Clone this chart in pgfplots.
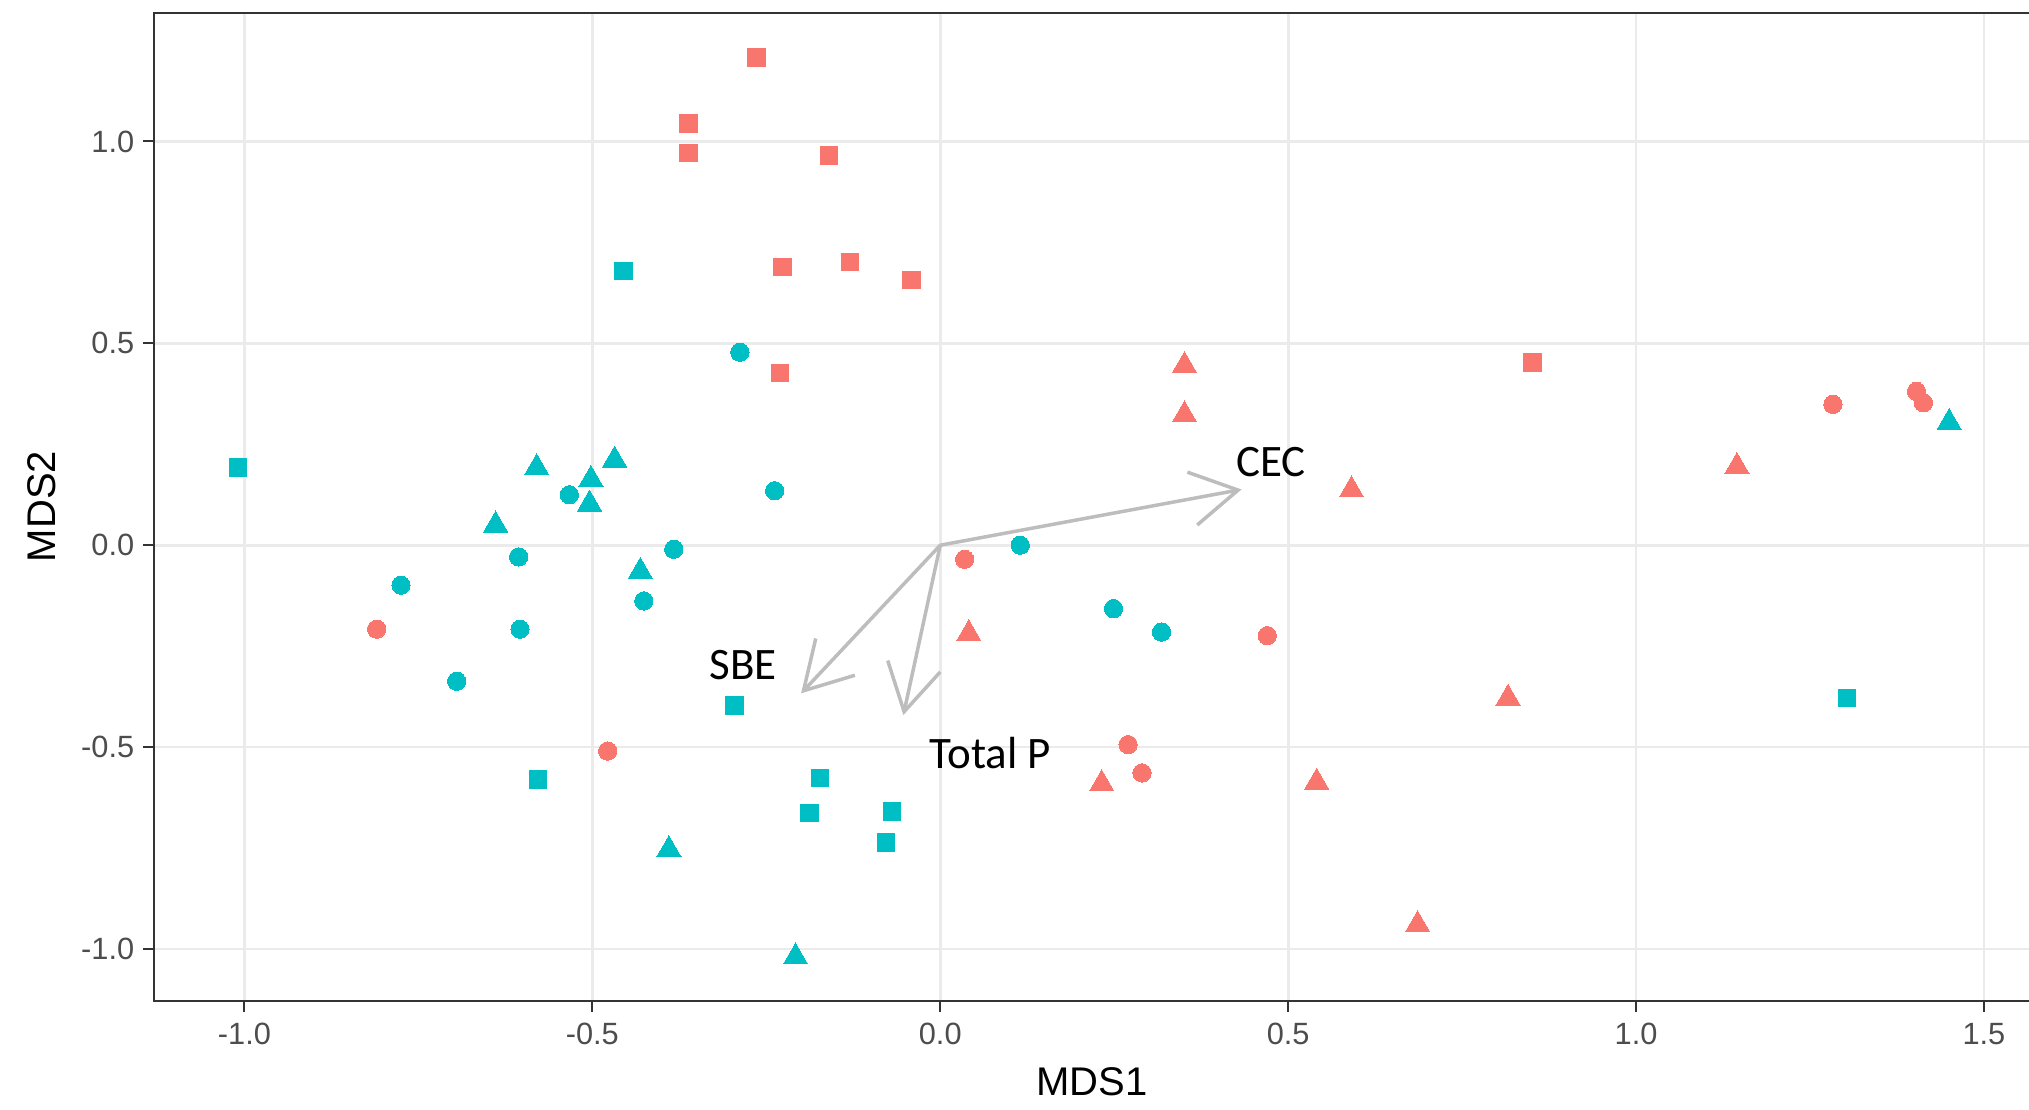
\documentclass[border=0pt]{standalone}
\usepackage{fontspec}
\setmainfont{Liberation Sans}
\newfontfamily\calibri{Carlito}
\usepackage{pgfplots}
\pgfplotsset{compat=1.18}
\usetikzlibrary{arrows.meta,calc}

\definecolor{grpA}{HTML}{F8766D}
\definecolor{grpB}{HTML}{00BFC4}
\definecolor{gridc}{HTML}{EBEBEB}
\definecolor{framec}{HTML}{333333}
\definecolor{tickc}{HTML}{4D4D4D}
\definecolor{vecc}{HTML}{BDBDBD}

\begin{document}
\begin{tikzpicture}
\begin{axis}[
  x=278.32pt, y=161.48pt,
  xmin=-1.130, xmax=1.566, ymin=-1.128, ymax=1.319,
  enlargelimits=false,
  axis line style={draw=framec, line width=0.8pt},
  xtick={-1,-0.5,0,0.5,1,1.5},
  ytick={-1,-0.5,0,0.5,1},
  tick pos=left, tick align=outside,
  major tick length=4.4pt,
  tick style={draw=framec, line width=0.8pt},
  grid=major,
  major grid style={draw=gridc, line width=1.1pt},
  /pgf/number format/.cd, fixed, fixed zerofill, precision=1, assume math mode=true,
  /pgfplots/.cd,
  ticklabel style={font=\fontsize{12.3}{14}\selectfont, text=tickc},
  xticklabel style={yshift=-1pt},
  xlabel={MDS1}, ylabel={MDS2},
  every axis x label/.style={at={(axis description cs:0.5,0)}, anchor=base, yshift=-37.8pt,
    font=\fontsize{16}{19}\selectfont},
  every axis y label/.style={at={(axis description cs:0,0.5)}, xshift=-39.2pt, rotate=90, anchor=base,
    font=\fontsize{16}{19}\selectfont},
  clip=false,
]
% environmental vectors
\addplot[vecc, line width=1.4pt, -{Straight Barb[angle=60:21.5pt]}] coordinates {(0,0) (0.433,0.138)};
\addplot[vecc, line width=1.4pt, -{Straight Barb[angle=60:21.5pt]}] coordinates {(0,0) (-0.200,-0.367)};
\addplot[vecc, line width=1.4pt, -{Straight Barb[angle=60:21.5pt]}] coordinates {(0,0) (-0.053,-0.421)};

% squares
\addplot[only marks, mark=square*, mark size=3.5pt, mark options={draw=grpA, fill=grpA, line width=0pt}] coordinates {
(-0.264,1.208) (-0.362,1.045) (-0.362,0.971) (-0.160,0.965) (-0.227,0.689)
(-0.130,0.702) (-0.041,0.657) (-0.230,0.426) (0.851,0.452)};
\addplot[only marks, mark=square*, mark size=3.5pt, mark options={draw=grpB, fill=grpB, line width=0pt}] coordinates {
(-0.455,0.679) (-1.009,0.192) (-0.296,-0.397) (-0.578,-0.580) (-0.173,-0.577)
(-0.188,-0.663) (-0.069,-0.660) (-0.078,-0.737) (1.303,-0.378)};

% triangles
\addplot[only marks, mark=triangle*, mark size=5.6pt, mark options={draw=grpA, fill=grpA, line width=0pt}] coordinates {
(0.351,0.445) (0.351,0.323) (0.591,0.137) (0.041,-0.219) (1.145,0.195)
(0.816,-0.379) (0.232,-0.591) (0.541,-0.587) (0.686,-0.940)};
\addplot[only marks, mark=triangle*, mark size=5.6pt, mark options={draw=grpB, fill=grpB, line width=0pt}] coordinates {
(-0.580,0.192) (-0.468,0.211) (-0.502,0.163) (-0.504,0.102) (-0.639,0.050)
(-0.431,-0.065) (-0.390,-0.754) (-0.208,-1.020) (1.450,0.304)};

% circles
\addplot[only marks, mark=*, mark size=3.66pt, mark options={draw=grpA, fill=grpA, line width=0pt}] coordinates {
(-0.810,-0.208) (-0.478,-0.510) (0.035,-0.035) (0.470,-0.224) (0.270,-0.494)
(0.290,-0.564) (1.283,0.349) (1.403,0.381) (1.413,0.353)};
\addplot[only marks, mark=*, mark size=3.66pt, mark options={draw=grpB, fill=grpB, line width=0pt}] coordinates {
(-0.288,0.478) (-0.238,0.135) (-0.533,0.125) (-0.606,-0.029) (-0.775,-0.099)
(-0.604,-0.208) (-0.695,-0.337) (-0.383,-0.010) (-0.426,-0.138) (0.115,0.000)
(0.249,-0.157) (0.318,-0.215)};

% vector labels
\node[font=\calibri\fontsize{18}{21}\selectfont, inner sep=0pt] at (axis cs:0.475,0.207) {CEC};
\node[font=\calibri\fontsize{18}{21}\selectfont, inner sep=0pt] at (axis cs:-0.283,-0.297) {SBE};
\node[font=\calibri\fontsize{18}{21}\selectfont, inner sep=0pt] at (axis cs:0.072,-0.516) {Total P};
\end{axis}
\pgfresetboundingbox
\path[use as bounding box] ($(current axis.south west)+(-61.6pt,-43.44pt)$) rectangle ($(current axis.north west)+(750pt,5.08pt)$);
\end{tikzpicture}
\end{document}
